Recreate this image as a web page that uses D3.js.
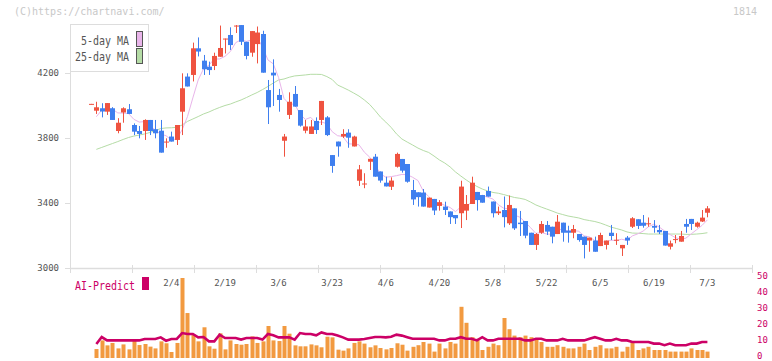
<!DOCTYPE html>
<html><head><meta charset="utf-8">
<script src="https://cdn.jsdelivr.net/npm/d3@7"></script>
<style>body{margin:0;background:#fff}svg{display:block}</style>
</head><body>
<svg id="c" width="772" height="361"></svg>
<script>
// ---- data (candle index 0..115) ----
const opens  = [4008,3968,3983,3962,3983,3843,3957,3977,3880,3843,3843,3911,3854,3845,3772,3809,3788,3962,4178,4188,
  4352,4276,4239,4243,4300,4406,4434,4489,4495,4392,4325,4378,4440,4095,4202,4065,3783,3942,4071,3972,
  3845,3825,3905,3911,3927,3695,3778,3809,3833,3748,3537,3515,3654,3685,3594,3525,3500,3623,3671,3640,
  3480,3466,3464,3372,3425,3382,3378,3348,3326,3337,3353,3394,3468,3449,3474,3409,3337,3357,3275,3367,
  3279,3289,3217,3142,3217,3265,3254,3209,3279,3230,3217,3209,3193,3169,3169,3135,3142,3217,3170,3121,
  3187,3254,3300,3279,3271,3259,3234,3228,3131,3174,3162,3271,3302,3254,3286,3340];
const highs  = [4010,4023,4014,4015,3990,3922,3989,4009,3890,3874,3915,3911,3911,3911,3798,3839,3880,4198,4198,4387,
  4419,4311,4270,4325,4492,4412,4481,4495,4495,4392,4458,4486,4460,4157,4284,4102,3825,4081,4120,3972,
  3911,3911,3927,4028,3935,3695,3778,3854,3854,3814,3634,3583,3672,3702,3594,3562,3558,3710,3671,3640,
  3542,3466,3486,3433,3425,3418,3408,3348,3326,3537,3449,3562,3468,3449,3501,3409,3378,3440,3446,3367,
  3351,3289,3217,3215,3289,3289,3254,3326,3279,3260,3265,3209,3193,3187,3193,3217,3169,3265,3214,3142,
  3197,3313,3300,3326,3311,3295,3265,3228,3169,3203,3228,3302,3302,3285,3357,3381];
const lows   = [4007,3948,3927,3942,3911,3829,3894,3948,3818,3798,3788,3818,3798,3710,3740,3778,3757,3818,4117,4148,
  4302,4188,4188,4218,4300,4320,4342,4446,4372,4284,4300,4259,4202,3886,3997,3962,3685,3917,3993,3870,
  3829,3825,3825,3880,3812,3586,3685,3800,3740,3748,3505,3491,3603,3562,3525,3502,3480,3618,3587,3525,
  3388,3378,3378,3372,3326,3353,3326,3271,3271,3246,3295,3394,3353,3402,3439,3311,3326,3250,3265,3234,
  3197,3183,3142,3111,3210,3203,3152,3209,3162,3156,3183,3162,3059,3100,3100,3135,3114,3172,3142,3074,
  3142,3246,3240,3248,3254,3217,3209,3138,3114,3152,3162,3217,3234,3248,3283,3312];
const closes = [4010,3989,3963,4015,3911,3894,3983,3948,3839,3825,3911,3843,3829,3710,3778,3778,3880,4106,4117,4352,
  4332,4223,4218,4305,4354,4412,4372,4492,4392,4305,4458,4449,4202,3989,4185,4034,3809,4023,3993,3876,
  3871,3871,3849,4028,3818,3628,3748,3825,3802,3809,3607,3520,3672,3562,3538,3502,3538,3702,3599,3531,
  3422,3436,3378,3433,3354,3405,3357,3313,3306,3501,3394,3525,3418,3402,3439,3337,3348,3313,3388,3244,
  3270,3199,3142,3209,3271,3224,3193,3285,3217,3217,3240,3172,3142,3187,3100,3203,3169,3197,3174,3142,
  3169,3306,3259,3260,3275,3248,3220,3138,3152,3178,3197,3254,3271,3279,3310,3367];
// 25-day moving average as drawn (starts at index 1)
const ma25 = [null,3730,3742,3754,3766,3778,3791,3803,3812,3818,3825,3834,3846,3858,3862,3863,3866,3880,3902,3917,
  3932,3948,3960,3975,3988,4000,4009,4022,4034,4049,4065,4080,4098,4117,4138,4157,4163,4174,4182,4185,
  4188,4192,4192,4191,4178,4160,4126,4111,4095,4077,4058,4034,4006,3969,3929,3898,3865,3825,3794,3775,
  3757,3738,3723,3711,3689,3665,3646,3622,3591,3566,3542,3520,3502,3486,3474,3465,3460,3452,3443,3434,
  3429,3422,3406,3388,3375,3363,3351,3338,3329,3320,3314,3308,3298,3292,3286,3277,3265,3252,3243,3234,
  3222,3215,3214,3212,3209,3209,3209,3209,3209,3209,3209,3207,3207,3209,3212,3217];
// first values of the 5-day MA (need days before the window)
const ma5Lead = [null,3931,3972,3978];
// AI-Predict panel
const aiBars = [null,5.6,11,7.9,9.4,6,8.5,5.4,10.8,8.1,8.75,7.1,6,10.4,9.2,3.75,9.4,50,28.1,14.6,
  10.4,19.2,7.3,5.8,15.4,5.4,11,8.75,8.3,8.75,13.5,9.4,10.4,20,11,10.6,20,15.2,7.9,7.3,
  7.3,8.5,7.9,6.7,13.3,12.9,5.2,4.6,6,9.4,10.4,9,6.7,7.9,6.25,5.4,6.25,9.2,8.3,4.6,
  7,8,10,9,4,9,6,10,9,32,22,13,12,5,7,9,8,25,18,14,
  13,14,13,12,10,7,7,8,7,6,6,7,9,5,7,8,6,6,7,4,
  7,10,5,6,7,5,5,5,4,4,4,4,6,5,5,4];
const aiLine = [null,8.75,13.1,11,11,11,11,11,11,11,11.9,11.9,11.9,12.9,10.8,11.9,11.9,15.6,15,15,
  12.9,13.1,10.4,10.4,14.6,12.5,12.5,12.5,11.5,12.5,12.5,12.5,11.5,15,14.2,12.9,12.9,12.9,11.5,15.6,
  15,15,14.2,16,15,15,14,12.9,11.5,11.5,11.5,11.9,12.5,13.1,13.1,12.9,13.3,14.6,14,13,
  12,12,12,12,12,11,11,12,12,13,12,12,11,13,11,11,12,12,12,12,
  12,11,11,12,12,11,11,11,12,11,11,11,11,12,13,12,11,11,12,11,
  11,10,10,10,10,9,9,8,9,8,8,8,9,9,10,10];
const priceTicks = [3000,3400,3800,4200];
const aiTicks = [0,10,20,30,40,50];
const dateLabels = ["2/4","2/19","3/6","3/23","4/6","4/20","5/8","5/22","6/5","6/19","7/3"];
const dateLabelIdx = [15,25,35,45,55,65,75,85,95,105,115];

// ---- drawing ----
const W=772,H=361;
const svg=d3.select("#c");
const mono='"DejaVu Sans Mono", monospace';
const UP="#ef5340", DOWN="#3f7fef";
const n=closes.length;
const idx=d3.range(n);
const x=d3.scaleLinear().domain([0,n-1]).range([91,707.4]);
const y=d3.scaleLinear().domain([3000,4200]).range([268,73]);
const grid=d3.scaleLinear().domain([0,11]).range([70,752]);
const yAI=d3.scaleLinear().domain([0,50]).range([358,278]);

svg.append("rect").attr("width",W).attr("height",H).attr("fill","#fff");

// copyright & code
svg.append("text").attr("x",14).attr("y",15).attr("font-family",mono).attr("font-size",10)
  .attr("fill","#c8c8c8").text("(C)https://chartnavi.com/");
svg.append("text").attr("x",757).attr("y",15).attr("text-anchor","end").attr("font-family",mono)
  .attr("font-size",10).attr("fill","#c8c8c8").text("1814");

// y axis
const yAx=svg.append("g").attr("transform","translate(70,0)")
  .call(d3.axisLeft(y).tickValues(priceTicks).tickSize(5).tickPadding(6).tickFormat(d3.format("d")));
yAx.select(".domain").remove();
yAx.selectAll(".tick line").attr("stroke","#ddd");
yAx.selectAll(".tick text").attr("font-family",mono).attr("font-size",9).attr("fill","#555");
svg.append("line").attr("x1",70.5).attr("x2",70.5).attr("y1",24).attr("y2",268).attr("stroke","#ddd");

// x axis (grid ticks)
const xAx=svg.append("g").attr("transform","translate(0,268)")
  .call(d3.axisBottom(grid).ticks(11).tickSize(5).tickFormat(""));
xAx.select(".domain").remove();
xAx.selectAll(".tick line").attr("stroke","#ddd").attr("y1",-3).attr("y2",5);
svg.append("line").attr("x1",70).attr("x2",752).attr("y1",268.5).attr("y2",268.5).attr("stroke","#ddd").attr("stroke-width",1.5);

// date labels
svg.append("g").selectAll("text").data(dateLabelIdx).join("text")
  .attr("x",d=>x(d)).attr("y",286).attr("text-anchor","middle")
  .attr("font-family",mono).attr("font-size",9).attr("fill","#555")
  .text((d,i)=>dateLabels[i]);

// moving averages
const ma5 = closes.map((c,i)=> i<4 ? ma5Lead[i] : d3.mean(closes.slice(i-4,i+1)));
const line=d3.line().defined(d=>d[1]!=null).x(d=>x(d[0])).y(d=>y(d[1]));
svg.append("path").attr("d",line(idx.map(i=>[i,ma25[i]]))).attr("fill","none")
  .attr("stroke","#b5dca6").attr("stroke-width",1);
svg.append("path").attr("d",line(idx.map(i=>[i,ma5[i]]))).attr("fill","none")
  .attr("stroke","#e9b5ea").attr("stroke-width",1);

// candles
const cg=svg.append("g");
const bw=5;
idx.forEach(i=>{
  const up=closes[i]>=opens[i];
  const col=up?UP:DOWN;
  const cx=Math.round(x(i))+0.5;
  cg.append("line").attr("x1",cx).attr("x2",cx).attr("y1",y(highs[i])).attr("y2",y(lows[i]))
    .attr("stroke",col).attr("stroke-width",1);
  const top=y(Math.max(opens[i],closes[i])), bot=y(Math.min(opens[i],closes[i]));
  cg.append("rect").attr("x",cx-bw/2).attr("width",bw).attr("y",top)
    .attr("height",Math.max(1,bot-top)).attr("fill",col);
});

// legend
const lg=svg.append("g");
lg.append("rect").attr("x",70.5).attr("y",24.5).attr("width",78).attr("height",47)
  .attr("fill","#fff").attr("stroke","#ddd");
const legItems=[["5-day MA","#e9b5ea"],["25-day MA","#b5dca6"]];
legItems.forEach((d,k)=>{
  lg.append("text").attr("x",129).attr("y",44.5+k*16.7).attr("text-anchor","end")
    .attr("font-family",mono).attr("font-size",12).attr("fill","#555")
    .attr("textLength",d[0].length*6).attr("lengthAdjust","spacingAndGlyphs").text(d[0]);
  lg.append("rect").attr("x",136.5).attr("y",31.5+k*17).attr("width",6).attr("height",15)
    .attr("fill",d[1]).attr("stroke","#555");
});

// AI-Predict panel
svg.append("text").attr("x",75).attr("y",290).attr("font-family",mono).attr("font-size",12)
  .attr("fill","#cc0066").attr("textLength",60).attr("lengthAdjust","spacingAndGlyphs").text("AI-Predict");
svg.append("rect").attr("x",142).attr("y",277).attr("width",7).attr("height",13).attr("fill","#cc0066");

svg.append("g").selectAll("rect").data(idx.filter(i=>aiBars[i]!=null)).join("rect")
  .attr("x",i=>Math.round(x(i))-1.5).attr("width",4)
  .attr("y",i=>yAI(aiBars[i])).attr("height",i=>yAI(0)-yAI(aiBars[i]))
  .attr("fill","#f29a40");
svg.append("path").attr("d",d3.line().defined(d=>d[1]!=null).x(d=>x(d[0])).y(d=>yAI(d[1]))(idx.map(i=>[i,aiLine[i]])))
  .attr("fill","none").attr("stroke","#cc0066").attr("stroke-width",2.6);

const rAx=svg.append("g").attr("transform","translate(754,-2)")
  .call(d3.axisRight(yAI).tickValues(aiTicks).tickSize(0).tickPadding(3));
rAx.select(".domain").remove();
rAx.selectAll(".tick text").attr("font-family",mono).attr("font-size",9).attr("fill","#cc0066");
</script>
</body></html>
